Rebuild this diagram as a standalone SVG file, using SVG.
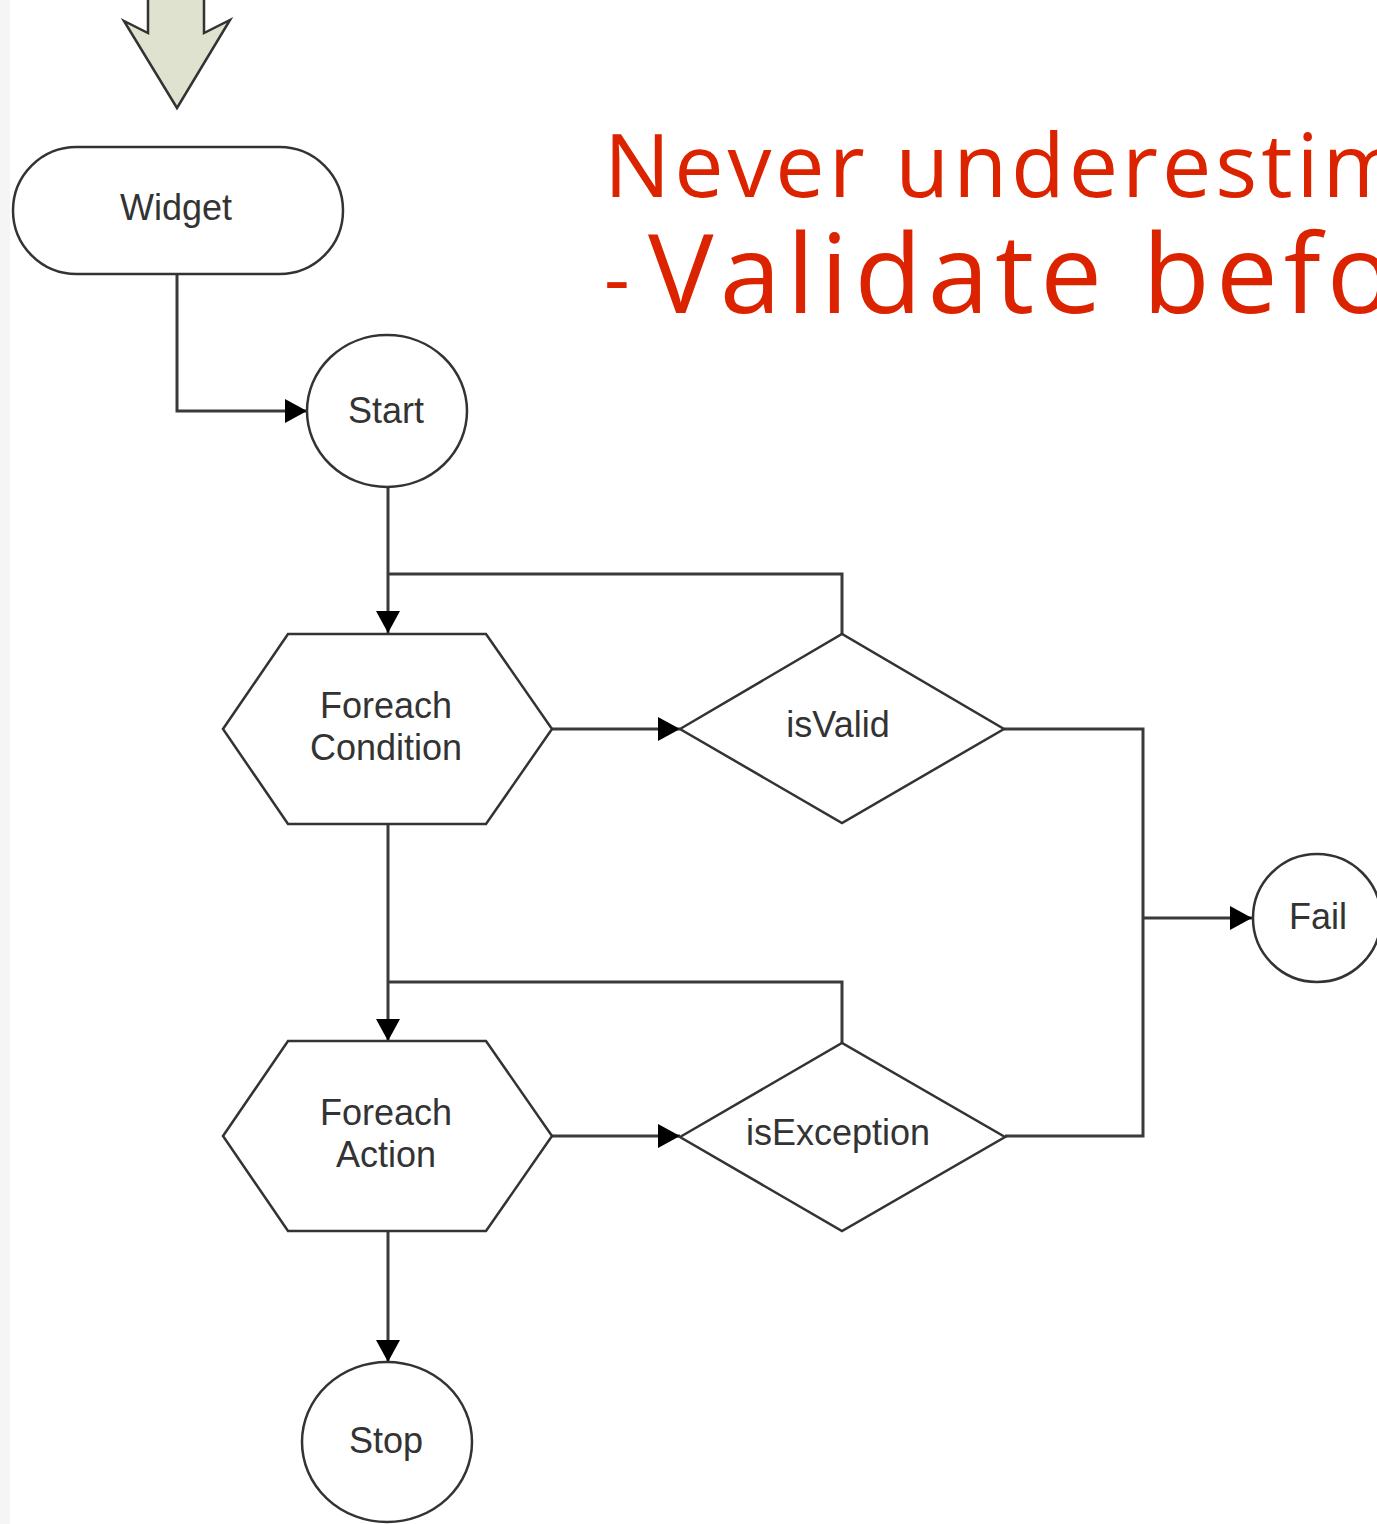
<svg xmlns="http://www.w3.org/2000/svg" width="1377" height="1524" viewBox="0 0 1377 1524">
<style>
.shape{fill:#fff;stroke:#333;stroke-width:2.5}
.lbl{font-family:"Liberation Sans",Arial,sans-serif;font-size:36px;fill:#333;text-anchor:middle}
.conn{fill:none;stroke:#3a3a3a;stroke-width:3}
.title{font-family:"Open Sans","Noto Sans",sans-serif;fill:#dc2300}
</style>
<defs>
<marker id="arr" markerUnits="userSpaceOnUse" markerWidth="24" markerHeight="24" refX="22" refY="12" orient="auto">
<path d="M0,0 L22,12 L0,24 z" fill="#000"/>
</marker>
</defs>
<rect x="0" y="0" width="1377" height="1524" fill="#fff"/>
<rect x="0" y="0" width="10" height="1524" fill="#f5f5f5"/>

<g id="top-arrow">
<path d="M148,-5 L148,33 L124,21 L177,108 L230,20 L204,33 L204,-5" fill="#dfe2cf" stroke="#333" stroke-width="2.5" stroke-linejoin="miter"/>
</g>

<g id="title">
<text class="title" x="604" y="197" font-size="88" textLength="800" lengthAdjust="spacing">Never underestim</text>
<text class="title" x="604" y="307" font-size="80">-</text>
<text class="title" x="648" y="313" font-size="110" textLength="745" lengthAdjust="spacing">Validate befo</text>
</g>

<g id="connectors">
<path class="conn" d="M177,274 L177,411 L307,411" marker-end="url(#arr)"/>
<path class="conn" d="M388,487 L388,633" marker-end="url(#arr)"/>
<path class="conn" d="M842,634 L842,574 L388,574"/>
<path class="conn" d="M552,729 L680,729" marker-end="url(#arr)"/>
<path class="conn" d="M1004,729 L1143,729 L1143,1136 L1005,1136"/>
<path class="conn" d="M1143,918 L1252,918" stroke-width="4.5" marker-end="url(#arr)"/>
<path class="conn" d="M388,824 L388,1041" marker-end="url(#arr)"/>
<path class="conn" d="M842,1043 L842,982 L388,982"/>
<path class="conn" d="M552,1136 L680,1136" marker-end="url(#arr)"/>
<path class="conn" d="M388,1231 L388,1362" marker-end="url(#arr)"/>
</g>

<g id="widget">
<rect class="shape" x="13" y="147" width="330" height="127" rx="63.5" ry="63.5"/>
<text class="lbl" x="176" y="220">Widget</text>
</g>

<g id="start">
<ellipse class="shape" cx="387" cy="411" rx="80" ry="76"/>
<text class="lbl" x="386" y="423">Start</text>
</g>

<g id="foreach-condition">
<polygon class="shape" points="223,729 288,634 486,634 552,729 486,824 288,824"/>
<text class="lbl" x="386" y="718">Foreach</text>
<text class="lbl" x="386" y="760">Condition</text>
</g>

<g id="isvalid">
<polygon class="shape" points="680,729 842,634 1004,729 842,823"/>
<text class="lbl" x="838" y="737">isValid</text>
</g>

<g id="fail">
<ellipse class="shape" cx="1317" cy="918" rx="64" ry="64"/>
<text class="lbl" x="1318" y="929">Fail</text>
</g>

<g id="foreach-action">
<polygon class="shape" points="223,1136 288,1041 486,1041 552,1136 486,1231 288,1231"/>
<text class="lbl" x="386" y="1125">Foreach</text>
<text class="lbl" x="386" y="1167">Action</text>
</g>

<g id="isexception">
<polygon class="shape" points="680,1137 842,1043 1005,1137 842,1231"/>
<text class="lbl" x="838" y="1145">isException</text>
</g>

<g id="stop">
<ellipse class="shape" cx="387" cy="1442" rx="85" ry="80"/>
<text class="lbl" x="386" y="1453">Stop</text>
</g>
</svg>
